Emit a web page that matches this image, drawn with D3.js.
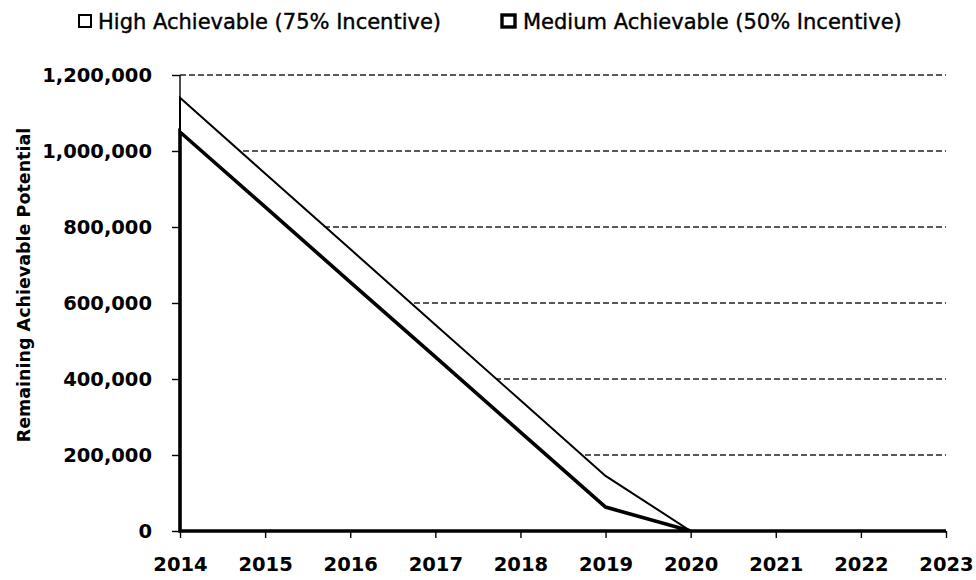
<!DOCTYPE html>
<html>
<head>
<meta charset="utf-8">
<script src="https://cdn.jsdelivr.net/npm/d3@7/dist/d3.min.js"></script>
<style>
  html, body { margin: 0; padding: 0; background: #fff; }
  svg { display: block; }
  text { font-family: "DejaVu Sans", "Open Sans", sans-serif; fill: #000; }
</style>
</head>
<body>
<svg id="chart" width="976" height="580"></svg>
<script>
// Remaining achievable potential by year for two incentive scenarios
const years = [2014, 2015, 2016, 2017, 2018, 2019, 2020, 2021, 2022, 2023];
const highAchievable = [1140000, 941000, 742000, 543000, 344000, 145000, 0, 0, 0, 0];
const mediumAchievable = [1050000, 853000, 655000, 458000, 260000, 63000, 0, 0, 0, 0];
const yTicks = [0, 200000, 400000, 600000, 800000, 1000000, 1200000];
const seriesNames = ["High Achievable (75% Incentive)", "Medium Achievable (50% Incentive)"];

const svg = d3.select("#chart");
const x = d3.scaleLinear().domain([2014, 2023]).range([180, 946]);
const y = d3.scaleLinear().domain([0, 1200000]).range([531, 75]);

// dashed horizontal gridlines
svg.append("g")
  .selectAll("line")
  .data(yTicks.filter(d => d > 0))
  .join("line")
  .attr("x1", x(2014)).attr("x2", x(2023))
  .attr("y1", d => y(d)).attr("y2", d => y(d))
  .attr("stroke", "#222")
  .attr("stroke-width", 1.4)
  .attr("stroke-dasharray", "6,3");

const rows = (vals) => years.map((yr, i) => ({ yr, v: vals[i] }));
const area = d3.area()
  .x(d => x(d.yr))
  .y0(y(0))
  .y1(d => y(d.v));

// High scenario area (thin outline)
svg.append("path")
  .datum(rows(highAchievable))
  .attr("d", area)
  .attr("fill", "#fff")
  .attr("stroke", "#000")
  .attr("stroke-width", 2)
  .attr("stroke-linejoin", "miter");

// Medium scenario area (heavy outline)
svg.append("path")
  .datum(rows(mediumAchievable))
  .attr("d", area)
  .attr("fill", "#fff")
  .attr("stroke", "#000")
  .attr("stroke-width", 3.6)
  .attr("stroke-linejoin", "miter");

// y axis
const yAxis = svg.append("g")
  .attr("transform", `translate(${x(2014)},0)`)
  .call(d3.axisLeft(y).tickValues(yTicks).tickSize(8).tickPadding(20)
    .tickFormat(d3.format(",")));
yAxis.select(".domain").attr("stroke", "#000").attr("stroke-width", 1.4)
  .attr("d", `M0,${y(1200000)}V${y(0)}`);
yAxis.selectAll(".tick line").attr("stroke", "#000").attr("stroke-width", 1.4);
yAxis.selectAll(".tick text").attr("font-size", 19.5).attr("font-weight", "bold")
  .attr("fill", "#000").attr("font-family", "DejaVu Sans, sans-serif");

// x axis
const xAxis = svg.append("g")
  .attr("transform", `translate(0,${y(0)})`)
  .call(d3.axisBottom(x).tickValues(years).tickSize(7).tickPadding(19)
    .tickFormat(d3.format("d")));
xAxis.select(".domain").attr("stroke", "#000").attr("stroke-width", 2)
  .attr("d", `M${x(2014)},0H${x(2023)}`);
xAxis.selectAll(".tick line").attr("stroke", "#000").attr("stroke-width", 1.4);
xAxis.selectAll(".tick text").attr("font-size", 19.5).attr("font-weight", "bold")
  .attr("fill", "#000").attr("font-family", "DejaVu Sans, sans-serif");

// y axis title
svg.append("text")
  .attr("transform", `translate(30,${(y(0) + y(1200000)) / 2 - 18}) rotate(-90)`)
  .attr("text-anchor", "middle")
  .attr("font-size", 17.5)
  .attr("font-weight", "bold")
  .text("Remaining Achievable Potential");

// legend
const legendX = [78, 501];
const legend = svg.append("g");
seriesNames.forEach((name, i) => {
  const g = legend.append("g").attr("transform", `translate(${legendX[i]},0)`);
  g.append("rect")
    .attr("x", 1).attr("y", 15).attr("width", i === 0 ? 12 : 13).attr("height", 12)
    .attr("fill", "#fff").attr("stroke", "#000")
    .attr("stroke-width", i === 0 ? 2 : 3.4);
  g.append("text")
    .attr("x", i === 0 ? 20 : 22).attr("y", 29)
    .attr("font-size", 21)
    .attr("stroke", "#000").attr("stroke-width", 0.4)
    .text(name);
});
</script>
</body>
</html>
